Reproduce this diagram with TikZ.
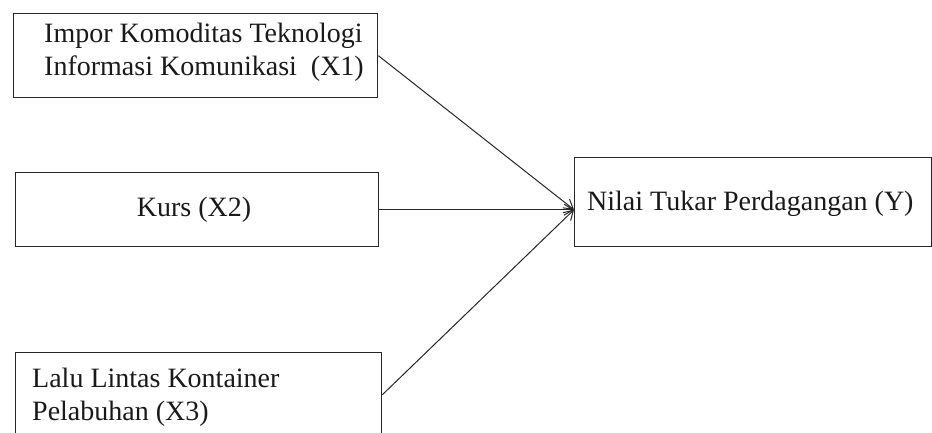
\documentclass[tikz,border=0pt]{standalone}
\usepackage{fontspec}
\setmainfont{Liberation Serif}
\usetikzlibrary{arrows.meta,calc}
\begin{document}
\begin{tikzpicture}[x=1pt,y=-1pt,
  box/.style={draw=black!85,line width=1.4pt,rectangle,inner sep=0pt,anchor=north west},
  lbl/.style={font=\fontsize{28}{33}\selectfont,anchor=base west,inner sep=0pt,text=black!90},
  conn/.style={draw=black!85,line width=1pt,-{Straight Barb[length=9pt,width=11pt]}}]
\useasboundingbox (0,0) rectangle (932,433);
% boxes
\node[box,minimum width=364pt,minimum height=84pt] (x1) at (13,13) {};
\node[box,minimum width=363pt,minimum height=74pt] (x2) at (15,172) {};
\node[box,minimum width=366pt,minimum height=84pt] (x3) at (15,352) {};
\node[box,minimum width=357pt,minimum height=89pt] (y) at (574,157) {};
% texts
\node[lbl] (t1a) at (44,43) {Impor Komoditas Teknologi};
\node[lbl] (t1b) at (44,76) {Informasi Komunikasi\ \ (X1)};
\node[lbl,anchor=base] (t2) at (194,216) {Kurs (X2)};
\node[lbl] (t3a) at (32,387) {Lalu Lintas Kontainer};
\node[lbl] (t3b) at (32,420) {Pelabuhan (X3)};
\node[lbl] (ty) at (587,210) {Nilai Tukar Perdagangan (Y)};
% connectors
\coordinate (tip) at (y.west |- x2.east);
\draw[conn] (x1.east) -- (tip);
\draw[conn] (x2.east) -- (tip);
\draw[conn] (x3.east) -- (tip);
\end{tikzpicture}
\end{document}
